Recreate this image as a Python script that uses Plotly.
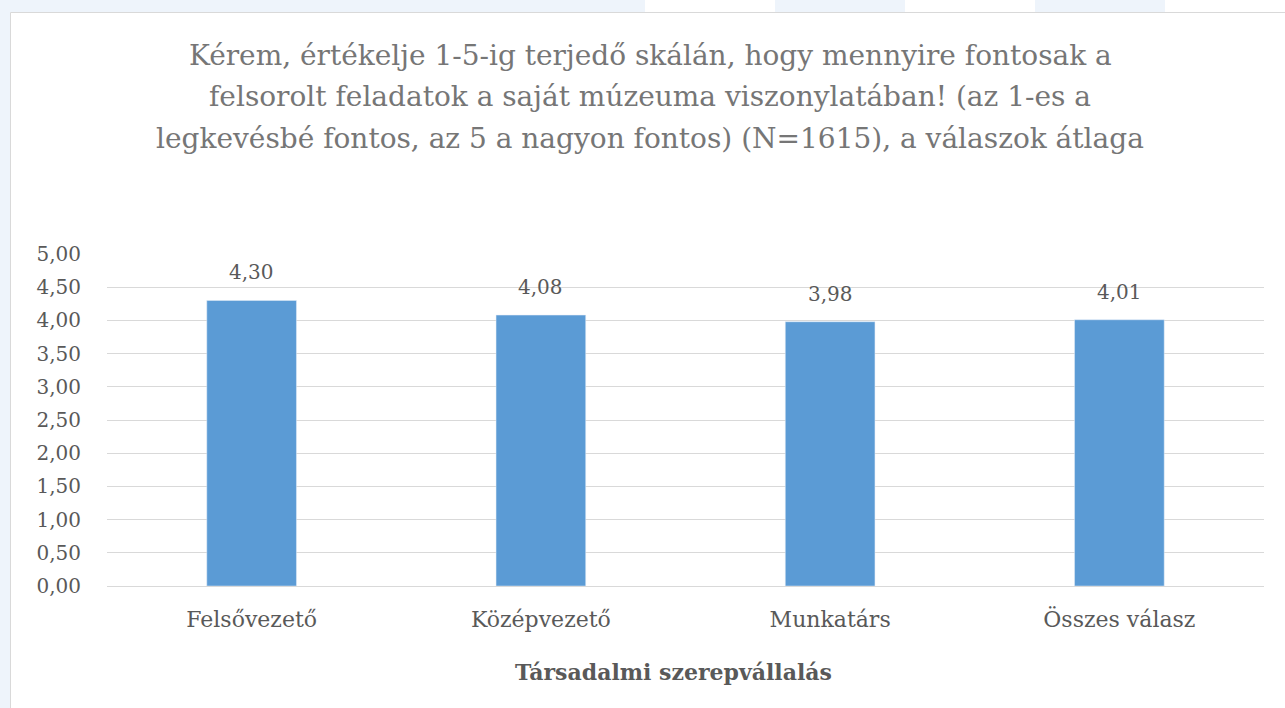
import plotly.graph_objects as go

categories = ["Felsővezető", "Középvezető", "Munkatárs", "Összes válasz"]
values = [4.30, 4.08, 3.98, 4.01]
tick_vals = [0, 0.5, 1, 1.5, 2, 2.5, 3, 3.5, 4, 4.5, 5]
tick_text = ["0,00", "0,50", "1,00", "1,50", "2,00", "2,50", "3,00", "3,50", "4,00", "4,50", "5,00"]
value_labels = [f"{v:.2f}".replace(".", ",") for v in values]

title_lines = [
    "Kérem, értékelje 1-5-ig terjedő skálán, hogy mennyire fontosak a",
    "felsorolt feladatok a saját múzeuma viszonylatában! (az 1-es a",
    "legkevésbé fontos, az 5 a nagyon fontos) (N=1615), a válaszok átlaga",
]
axis_title = "Társadalmi szerepvállalás"

W, H = 1285, 708
L, R, T, B = 107, 21, 254, 122
pw, ph = W - L - R, H - T - B

def px_x(x):
    return (x - L) / pw

def px_y(y):
    return (H - B - y) / ph

FONT = "DejaVu Serif"
TXT = "#595959"
fig = go.Figure(go.Bar(
    x=categories, y=values, marker_color="#5b9bd5", width=0.31,
    hoverinfo="skip",
))

shapes = []
blue = "#eef4fb"
for x0, x1 in [(0, 645), (775, 905), (1035, 1165)]:
    shapes.append(dict(type="rect", xref="paper", yref="paper",
                       x0=px_x(x0), x1=px_x(x1), y0=px_y(12), y1=px_y(0),
                       fillcolor=blue, line_width=0, layer="below"))
shapes.append(dict(type="rect", xref="paper", yref="paper",
                   x0=px_x(0), x1=px_x(10), y0=px_y(708), y1=px_y(0),
                   fillcolor=blue, line_width=0, layer="below"))
shapes.append(dict(type="rect", xref="paper", yref="paper",
                   x0=px_x(10.5), x1=px_x(1290), y0=px_y(712), y1=px_y(12.5),
                   fillcolor="rgba(0,0,0,0)", line=dict(color="#d9d9d9", width=1), layer="below"))

annotations = []
for i, line in enumerate(title_lines):
    annotations.append(dict(text=line, xref="paper", yref="paper",
                            x=px_x(650), y=px_y(55 + 42 * i),
                            xanchor="center", yanchor="middle", showarrow=False,
                            font=dict(family=FONT, size=28, color="#767676")))
annotations.append(dict(text=f"<b>{axis_title}</b>", xref="paper", yref="paper",
                        x=px_x(673), y=px_y(672), xanchor="center", yanchor="middle",
                        showarrow=False, font=dict(family=FONT, size=22, color=TXT)))
for cat, val, lab in zip(categories, values, value_labels):
    annotations.append(dict(text=lab, x=cat, y=val, xref="x", yref="y",
                            xanchor="center", yanchor="bottom", yshift=14,
                            showarrow=False, font=dict(family=FONT, size=20, color=TXT)))

fig.update_layout(
    width=W, height=H,
    margin=dict(l=L, r=R, t=T, b=B, pad=0),
    paper_bgcolor="white", plot_bgcolor="white",
    shapes=shapes, annotations=annotations,
    showlegend=False,
    font=dict(family=FONT, color=TXT),
    xaxis=dict(
        tickfont=dict(size=22, color=TXT, family=FONT),
        showline=True, linecolor="#d9d9d9", linewidth=1,
        ticks="", ticklabelstandoff=14,
    ),
    yaxis=dict(
        range=[0, 5], tickvals=tick_vals, ticktext=tick_text,
        tickfont=dict(size=20, color=TXT, family=FONT),
        showgrid=True, gridcolor="#d9d9d9", gridwidth=1,
        zeroline=False, ticks="", ticklabelstandoff=25,
    ),
)

fig.write_html("out.html", config={"displayModeBar": False},
               post_script="document.body.style.margin='0';")
